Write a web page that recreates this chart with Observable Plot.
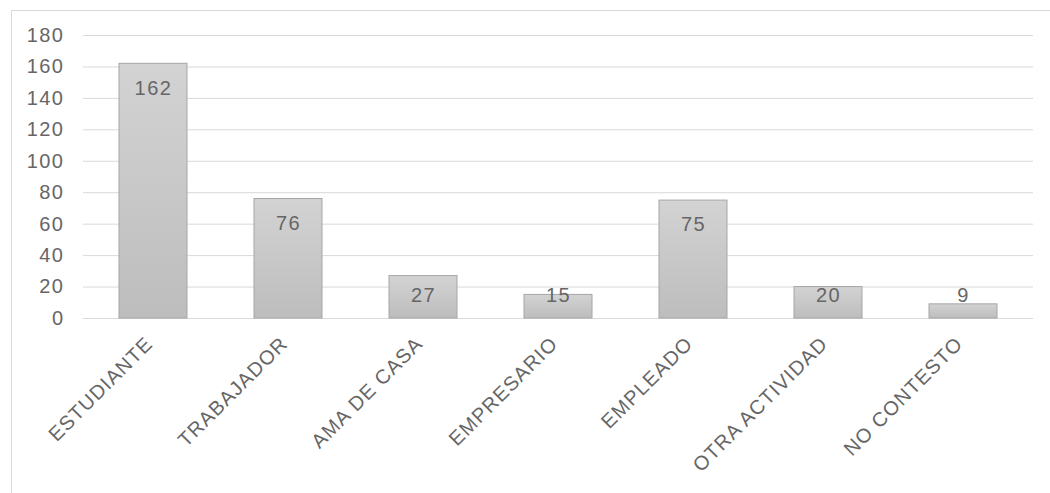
<!DOCTYPE html>
<html>
<head>
<meta charset="utf-8">
<script src="https://cdn.jsdelivr.net/npm/d3@7"></script>
<script src="https://cdn.jsdelivr.net/npm/@observablehq/plot@0.6"></script>
<style>
  html, body { margin: 0; padding: 0; background: #fff; overflow: hidden; }
  #frame { position: absolute; left: 11px; top: 10px; width: 1100px; height: 600px; border: 1px solid #d9d9d9; box-sizing: border-box; }
  #chart { position: absolute; left: 0; top: 0; }
  #chart svg text { letter-spacing: 1.5px; }
  #chart svg g[aria-label="x-axis tick label"] text { letter-spacing: 1.1px; }
</style>
</head>
<body>
<div id="frame"></div>
<div id="chart"></div>
<script>
const categories = ["ESTUDIANTE", "TRABAJADOR", "AMA DE CASA", "EMPRESARIO", "EMPLEADO", "OTRA ACTIVIDAD", "NO CONTESTO"];
const values = [162, 76, 27, 15, 75, 20, 9];
const yTicks = [0, 20, 40, 60, 80, 100, 120, 140, 160, 180];

const data = categories.map((c, i) => ({category: c, value: values[i]}));
const font = "'Liberation Sans', Arial, sans-serif";
const textColor = "#666666";

const chart = Plot.plot({
  width: 1050,
  height: 493,
  marginLeft: 83,
  marginRight: 17,
  marginTop: 35,
  marginBottom: 175,
  style: {fontFamily: font, fontSize: "20px", color: textColor, background: "transparent"},
  x: {domain: categories, paddingInner: 0.5, paddingOuter: 0.25, label: null},
  y: {domain: [0, 180], label: null},
  marks: [
    Plot.gridY(yTicks, {stroke: "#d9d9d9", strokeOpacity: 1, strokeWidth: 1}),
    Plot.axisY({ticks: yTicks, tickSize: 0, tickPadding: 19, label: null, fontSize: 20, fill: textColor}),
    Plot.barY(data, {x: "category", y: "value", fill: "url(#barGrad)", stroke: "#a6a6a6", strokeWidth: 1}),
    Plot.text(data, {x: "category", y: d => Math.max(d.value - 15.5, 14.5), text: d => String(d.value), fontSize: 20, fill: textColor, lineAnchor: "middle"}),
    Plot.axisX({tickRotate: -45, tickSize: 0, tickPadding: 22, dx: -4, label: null, fontSize: 20, fill: textColor})
  ]
});

const defs = d3.select(chart).insert("defs", ":first-child");
const grad = defs.append("linearGradient").attr("id", "barGrad").attr("x1", 0).attr("y1", 0).attr("x2", 0).attr("y2", 1);
grad.append("stop").attr("offset", "0%").attr("stop-color", "#d3d3d3");
grad.append("stop").attr("offset", "100%").attr("stop-color", "#bdbdbd");

document.getElementById("chart").appendChild(chart);
</script>
</body>
</html>
